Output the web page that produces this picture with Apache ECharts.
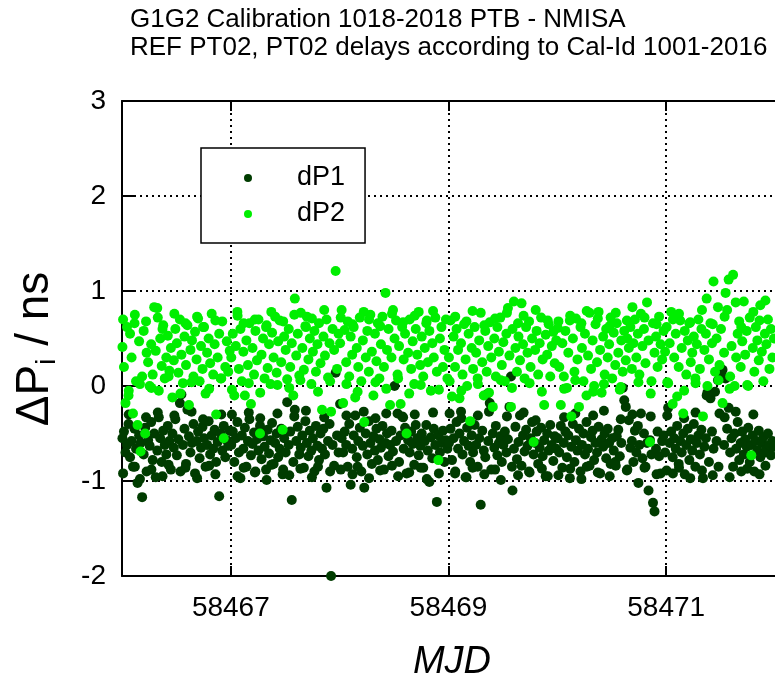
<!DOCTYPE html>
<html>
<head>
<meta charset="utf-8">
<script src="https://cdn.jsdelivr.net/npm/echarts@6.0.0/dist/echarts.min.js"></script>
<style>
html,body{margin:0;padding:0;background:#fff;}
#chart{width:775px;height:682px;}
</style>
</head>
<body>
<div id="chart"></div>
<script>
// Common-view track epochs (MJD); the last block holds additional satellites tracked in the same sessions
const mjd = [
58466.004,58466.018,58466.032,58466.046,58466.060,58466.074,58466.088,58466.101,58466.115,58466.129,58466.143,58466.157,58466.171,58466.185,58466.199,58466.213,58466.226,58466.240,
58466.254,58466.268,58466.282,58466.296,58466.310,58466.324,58466.338,58466.351,58466.365,58466.379,58466.393,58466.407,58466.421,58466.435,58466.449,58466.463,58466.476,58466.490,
58466.504,58466.518,58466.532,58466.546,58466.560,58466.574,58466.588,58466.601,58466.615,58466.629,58466.643,58466.657,58466.671,58466.685,58466.699,58466.713,58466.726,58466.740,
58466.754,58466.768,58466.782,58466.796,58466.810,58466.824,58466.838,58466.851,58466.865,58466.879,58466.893,58466.907,58466.921,58466.935,58466.949,58466.963,58466.976,58466.990,
58467.004,58467.018,58467.032,58467.046,58467.060,58467.074,58467.088,58467.101,58467.115,58467.129,58467.143,58467.157,58467.171,58467.185,58467.199,58467.213,58467.226,58467.240,
58467.254,58467.268,58467.282,58467.296,58467.310,58467.324,58467.338,58467.351,58467.365,58467.379,58467.393,58467.407,58467.421,58467.435,58467.449,58467.463,58467.476,58467.490,
58467.504,58467.518,58467.532,58467.546,58467.560,58467.574,58467.588,58467.601,58467.615,58467.629,58467.643,58467.657,58467.671,58467.685,58467.699,58467.713,58467.726,58467.740,
58467.754,58467.768,58467.782,58467.796,58467.810,58467.824,58467.838,58467.851,58467.865,58467.879,58467.893,58467.907,58467.921,58467.935,58467.949,58467.963,58467.976,58467.990,
58468.004,58468.018,58468.032,58468.046,58468.060,58468.074,58468.088,58468.101,58468.115,58468.129,58468.143,58468.157,58468.171,58468.185,58468.199,58468.213,58468.226,58468.240,
58468.254,58468.268,58468.282,58468.296,58468.310,58468.324,58468.338,58468.351,58468.365,58468.379,58468.393,58468.407,58468.421,58468.435,58468.449,58468.463,58468.476,58468.490,
58468.504,58468.518,58468.532,58468.546,58468.560,58468.574,58468.588,58468.601,58468.615,58468.629,58468.643,58468.657,58468.671,58468.685,58468.699,58468.713,58468.726,58468.740,
58468.754,58468.768,58468.782,58468.796,58468.810,58468.824,58468.838,58468.851,58468.865,58468.879,58468.893,58468.907,58468.921,58468.935,58468.949,58468.963,58468.976,58468.990,
58469.004,58469.018,58469.032,58469.046,58469.060,58469.074,58469.088,58469.101,58469.115,58469.129,58469.143,58469.157,58469.171,58469.185,58469.199,58469.213,58469.226,58469.240,
58469.254,58469.268,58469.282,58469.296,58469.310,58469.324,58469.338,58469.351,58469.365,58469.379,58469.393,58469.407,58469.421,58469.435,58469.449,58469.463,58469.476,58469.490,
58469.504,58469.518,58469.532,58469.546,58469.560,58469.574,58469.588,58469.601,58469.615,58469.629,58469.643,58469.657,58469.671,58469.685,58469.699,58469.713,58469.726,58469.740,
58469.754,58469.768,58469.782,58469.796,58469.810,58469.824,58469.838,58469.851,58469.865,58469.879,58469.893,58469.907,58469.921,58469.935,58469.949,58469.963,58469.976,58469.990,
58470.004,58470.018,58470.032,58470.046,58470.060,58470.074,58470.088,58470.101,58470.115,58470.129,58470.143,58470.157,58470.171,58470.185,58470.199,58470.213,58470.226,58470.240,
58470.254,58470.268,58470.282,58470.296,58470.310,58470.324,58470.338,58470.351,58470.365,58470.379,58470.393,58470.407,58470.421,58470.435,58470.449,58470.463,58470.476,58470.490,
58470.504,58470.518,58470.532,58470.546,58470.560,58470.574,58470.588,58470.601,58470.615,58470.629,58470.643,58470.657,58470.671,58470.685,58470.699,58470.713,58470.726,58470.740,
58470.754,58470.768,58470.782,58470.796,58470.810,58470.824,58470.838,58470.851,58470.865,58470.879,58470.893,58470.907,58470.921,58470.935,58470.949,58470.963,58470.976,58470.990,
58471.004,58471.018,58471.032,58471.046,58471.060,58471.074,58471.088,58471.101,58471.115,58471.129,58471.143,58471.157,58471.171,58471.185,58471.199,58471.213,58471.226,58471.240,
58471.254,58471.268,58471.282,58471.296,58471.310,58471.324,58471.338,58471.351,58471.365,58471.379,58471.393,58471.407,58471.421,58471.435,58471.449,58471.463,58471.476,58471.490,
58471.504,58471.518,58471.532,58471.546,58471.560,58471.574,58471.588,58471.601,58471.615,58471.629,58471.643,58471.657,58471.671,58471.685,58471.699,58471.713,58471.726,58471.740,
58471.754,58471.768,58471.782,58471.796,58471.810,58471.824,58471.838,58471.851,58471.865,58471.879,58471.893,58471.907,58471.921,58471.935,58471.949,58471.963,58471.976,58471.990,
58466.010,58466.062,58466.118,58466.165,58466.221,58466.270,58466.329,58466.372,58466.428,58466.481,58466.537,58466.583,58466.639,58466.690,58466.745,58466.801,58466.858,58466.912,
58467.010,58467.062,58467.118,58467.165,58467.221,58467.270,58467.329,58467.372,58467.428,58467.481,58467.537,58467.583,58467.639,58467.690,58467.745,58467.801,58467.858,58467.912,
58468.010,58468.062,58468.118,58468.165,58468.221,58468.270,58468.329,58468.372,58468.428,58468.481,58468.537,58468.583,58468.639,58468.690,58468.745,58468.801,58468.858,58468.912,
58469.010,58469.062,58469.118,58469.165,58469.221,58469.270,58469.329,58469.372,58469.428,58469.481,58469.537,58469.583,58469.639,58469.690,58469.745,58469.801,58469.858,58469.912,
58470.010,58470.062,58470.118,58470.165,58470.221,58470.270,58470.329,58470.372,58470.428,58470.481,58470.537,58470.583,58470.639,58470.690,58470.745,58470.801,58470.858,58470.912,
58471.010,58471.062,58471.118,58471.165,58471.221,58471.270,58471.329,58471.372,58471.428,58471.481,58471.537,58471.583,58471.639,58471.690,58471.745,58471.801,58471.858,58471.912
];

// dP1 delay differences (ns)
const dP1 = [
-0.55,-0.48,-0.70,-0.62,-0.40,-0.75,-0.58,-0.85,-0.45,-0.66,-1.02,-0.52,-0.60,-1.17,-0.72,-0.44,-0.90,-0.57,
-0.63,-0.38,-0.78,-0.50,-0.96,-0.68,-0.33,-0.55,-0.80,-0.47,-0.62,-0.72,-0.42,-0.58,-0.88,-0.50,-0.65,-0.35,
-0.73,-0.56,-0.18,-0.09,-0.62,-0.45,-0.82,-0.25,-0.53,-0.70,-0.60,-0.40,-0.92,-0.58,-0.48,-0.76,-0.65,-0.43,
-0.55,-0.85,-0.62,-0.37,-0.72,-0.52,-0.66,-0.46,-0.80,-0.59,-1.16,-0.50,-0.68,-0.42,-0.75,-0.57,-0.63,-0.47,
-0.62,-0.48,-0.80,-0.55,-0.38,-0.70,-0.97,-0.52,-0.66,-0.44,-0.85,-0.58,-0.35,-0.73,-0.61,-0.49,-0.90,-0.56,
-0.68,-0.42,-0.77,-0.53,-0.64,-0.88,-0.46,-0.71,-0.57,-0.39,-0.82,-0.60,-0.50,-0.75,-0.66,-0.45,-0.93,-0.55,
-0.70,-0.17,-0.62,-0.48,-1.20,-0.80,-0.25,-0.58,-0.43,-0.72,-0.65,-0.52,-0.86,-0.37,-0.60,-0.74,-0.47,-0.68,
-0.55,-0.90,-0.42,-0.63,-0.78,-0.50,-0.66,-0.45,-0.72,-1.07,-0.58,-0.40,-2.00,-0.62,-0.84,0.14,-0.52,-0.70,
-0.19,-0.55,-0.70,-0.48,-0.62,-0.85,-0.40,-1.04,-0.66,-0.52,-0.31,-0.75,-0.58,-0.44,-0.90,-0.63,-1.07,-0.50,
-0.72,-0.37,-0.60,-0.82,-0.53,-0.68,-0.45,-0.78,-0.56,-0.65,-0.42,-0.88,-0.60,-0.50,-0.74,-0.62,-0.47,-0.69,
0.00,-0.58,-0.29,-0.80,-0.52,-0.32,-0.66,-0.44,-0.92,-0.57,-0.70,-0.48,-0.61,-0.83,-0.41,-0.55,-0.73,-0.63,
-0.50,-0.86,-0.58,-0.41,-0.68,-1.01,-0.54,-0.76,-0.45,-0.62,-1.22,-0.52,-0.70,-0.60,-0.47,-0.80,-0.57,-0.66,
-0.60,-0.45,-0.78,-0.55,-0.92,-0.38,-0.66,-0.50,-0.27,-0.72,-0.58,-0.96,-0.44,-0.63,-0.80,-0.52,-0.70,-0.41,
-0.62,-0.85,-0.55,-1.25,-0.47,-0.68,-0.75,-0.09,-0.58,-0.18,-0.88,-0.50,-0.65,-0.42,-0.73,-0.60,-0.53,-0.80,
-0.62,-0.48,-0.70,-0.56,-0.22,0.10,-1.10,-0.66,-0.43,-0.77,-0.59,-0.31,-0.84,-0.52,-0.69,-0.46,-0.63,-0.90,
-0.55,-0.38,-0.72,-0.60,-0.48,-0.82,-0.65,-0.44,-0.74,-0.57,-0.95,-0.50,-0.68,-0.41,-0.62,-0.79,-0.53,-0.66,
-0.55,-0.70,-0.42,-0.86,-0.60,-0.48,-0.75,-0.52,-0.97,-0.64,-0.40,-0.80,-0.57,-0.68,-0.45,-0.90,-0.62,-0.50,
-0.72,-0.38,-0.66,-0.84,-0.54,-0.47,-0.78,-0.60,-0.70,-0.43,-0.92,-0.56,-0.64,-0.50,-0.76,-0.45,-0.60,-0.82,
-0.55,-0.68,-0.80,-0.53,-0.46,-0.74,-0.60,-0.02,-0.15,-0.22,-0.88,-0.36,-0.65,-0.58,-0.80,-0.47,-0.70,-0.42,
-0.62,-0.29,-0.76,-0.50,-0.85,-0.60,-1.10,-0.57,-0.72,-1.23,-1.32,-0.66,-0.48,-0.74,-0.92,-0.58,-0.52,-0.70,
-0.89,-0.23,-0.60,-0.48,-0.75,-0.55,-0.66,-0.42,-0.82,-0.58,-0.70,-0.50,-0.93,-0.62,-0.45,-0.78,-0.56,-0.68,
-0.40,-0.85,-0.60,-0.52,-0.72,-0.46,-0.97,-0.64,-0.55,-0.07,-0.80,-0.13,-0.48,-0.66,-0.06,-0.58,0.06,-0.29,
0.12,0.17,-0.62,0.08,-0.45,-0.23,-0.70,-0.55,-0.85,-0.50,-0.66,-0.38,-0.78,-0.60,-0.48,-0.72,-0.56,-0.64,
-0.44,-0.80,-0.62,-0.52,-0.90,-0.58,-0.68,-0.47,-0.75,-0.60,-0.54,-0.70,-0.66,-0.50,-0.62,-0.73,-0.58,-0.64,
-0.92,-0.30,-0.85,-0.98,-0.33,-0.88,-0.28,-0.95,-0.83,-0.31,-0.90,-0.86,-0.27,-0.97,-0.35,-0.84,-0.93,-0.30,
-0.30,-0.95,-0.86,-0.28,-0.91,-0.34,-0.99,-0.83,-0.29,-0.88,-0.94,-0.32,-0.87,-0.26,-0.96,-0.85,-0.33,-0.90,
-0.88,-0.31,-0.93,-0.85,-0.27,-0.97,-0.34,-0.89,-0.29,-0.84,-0.95,-0.33,-0.91,-0.30,-0.86,-0.98,-0.28,-0.92,
-0.29,-0.90,-0.34,-0.96,-0.86,-0.31,-0.93,-0.27,-0.88,-0.99,-0.32,-0.85,-0.94,-0.28,-0.91,-0.36,-0.87,-0.95,
-0.94,-0.33,-0.87,-0.29,-0.98,-0.85,-0.31,-0.91,-0.26,-0.95,-0.84,-0.35,-0.89,-0.30,-1.02,-0.86,-0.32,-0.93,
-0.31,-0.92,-0.86,-0.34,-0.97,-0.28,-0.89,-0.10,-0.94,-0.85,-0.33,-0.96,-0.27,-0.90,-0.87,-0.30,-0.93,-0.84
];

// dP2 delay differences (ns)
const dP2 = [
0.41,0.20,-0.18,0.62,-0.10,0.55,0.30,-0.29,0.66,0.05,-0.41,0.47,-0.69,0.10,0.58,-0.50,0.35,0.25,
0.00,0.44,0.12,0.83,0.37,0.82,-0.05,0.50,0.21,0.64,0.08,0.30,0.53,0.16,0.40,-0.12,0.27,0.60,
0.45,0.14,0.70,0.33,0.03,0.52,0.22,0.64,-0.20,0.38,0.48,0.10,0.57,0.28,0.71,0.05,0.42,0.18,
0.62,-0.08,0.35,0.50,0.24,0.76,0.12,0.44,-0.30,0.30,0.55,0.08,0.68,-0.55,0.20,0.47,0.15,0.37,
0.30,0.55,-0.10,0.42,0.78,0.18,0.60,0.05,0.36,-0.10,0.48,0.22,0.66,-0.19,0.40,0.12,0.58,0.27,
0.70,-0.50,0.33,0.50,0.08,0.62,0.19,0.44,0.02,0.56,0.30,0.73,0.14,0.47,0.69,0.25,-0.46,0.52,
0.38,0.07,0.60,0.20,0.45,-0.10,0.92,0.32,0.55,0.11,0.77,0.40,0.17,0.63,0.73,0.28,0.50,0.02,
0.36,0.58,0.15,0.44,0.66,0.24,-0.25,0.52,0.32,0.70,0.09,0.45,-0.27,0.60,0.38,1.21,0.18,0.55,
0.45,0.80,-0.18,0.59,0.25,0.68,0.10,0.52,0.33,0.62,-0.12,0.40,0.20,0.72,0.05,0.48,-0.38,0.30,
0.58,0.15,0.75,0.36,-0.10,0.55,0.26,0.66,0.08,0.44,0.73,0.20,0.98,0.38,0.60,-0.20,0.30,0.80,
0.50,0.69,0.12,0.42,-0.19,0.62,0.28,0.55,-0.50,0.35,0.70,0.18,0.47,0.02,0.60,0.33,0.78,0.22,
0.52,0.10,0.40,0.66,0.25,0.58,-0.05,0.45,0.30,0.72,0.15,-0.78,0.50,0.62,0.20,0.38,0.70,0.08,
0.30,0.69,-0.11,0.52,0.20,0.60,0.38,-0.13,0.45,0.12,0.65,0.28,0.00,0.55,-0.37,0.40,0.18,0.62,
0.35,0.08,0.48,0.77,0.25,-0.10,0.58,0.15,0.42,0.67,0.30,-0.22,0.50,0.10,0.62,0.36,0.72,0.22,
0.46,0.05,0.55,0.82,0.32,-0.22,0.60,0.89,0.40,0.15,0.52,0.27,0.87,0.44,0.08,0.62,0.35,0.68,
0.20,0.50,-0.59,0.38,0.58,0.12,0.45,0.72,0.28,-0.20,0.54,0.33,0.65,0.10,0.42,0.57,0.24,0.48,
0.61,0.20,-0.20,0.45,0.10,0.58,-0.02,0.35,0.69,-0.32,0.50,0.15,0.71,0.28,-0.22,0.62,0.40,0.05,
0.55,-0.10,0.32,0.77,0.18,0.48,0.00,0.65,0.25,0.78,0.38,-0.07,0.52,0.12,0.60,0.30,0.44,0.72,
0.08,0.56,0.22,0.66,0.35,-0.04,0.48,0.15,0.58,0.27,0.50,0.40,0.62,0.18,0.45,0.70,0.30,0.55,
0.12,0.76,0.42,0.60,0.24,0.88,0.48,-0.59,0.05,0.66,0.35,0.52,0.20,0.73,0.44,0.28,0.58,0.36,
0.62,0.03,0.45,0.78,-0.19,0.30,0.55,-0.11,0.20,0.69,0.40,-0.29,0.58,0.12,0.48,0.66,0.25,0.35,
0.52,0.08,0.44,0.70,0.18,0.60,-0.32,0.38,0.55,0.00,0.28,0.66,0.45,1.10,0.15,0.50,0.83,0.22,
0.60,-0.18,0.35,0.98,0.80,1.12,0.10,0.42,1.17,0.00,0.30,0.55,0.68,0.20,0.47,0.89,0.33,0.58,
0.00,0.72,-0.73,0.40,0.15,0.62,0.48,0.27,0.85,0.36,0.05,0.55,0.44,0.70,0.18,0.60,0.30,0.50,
0.70,-0.05,0.75,0.02,0.68,-0.02,0.72,0.60,0.10,0.76,-0.08,0.66,0.04,0.73,0.62,-0.03,0.69,0.08,
-0.04,0.74,0.66,0.03,0.70,-0.07,0.64,0.78,0.01,0.68,-0.02,0.75,0.06,0.62,0.71,-0.06,0.80,0.05,
0.72,0.02,0.65,-0.06,0.78,0.70,0.04,0.63,-0.03,0.76,0.08,0.67,-0.08,0.74,0.01,0.69,0.79,-0.04,
0.05,0.73,-0.05,0.68,0.79,0.02,0.64,-0.07,0.71,0.06,0.77,-0.02,0.66,0.74,0.03,0.80,-0.06,0.69,
0.68,-0.03,0.74,0.06,0.66,0.79,-0.06,0.71,0.02,0.63,0.77,-0.01,0.69,0.83,0.04,0.72,-0.08,0.65,
0.04,0.70,0.76,-0.05,0.67,0.03,0.80,0.92,0.65,0.06,0.73,-0.03,0.88,0.62,0.01,0.78,0.69,0.90
];

const seriesNames = ['dP1', 'dP2'];
const seriesColors = ['#003c00', '#00ee00'];
const xTickValues = [58467, 58469, 58471];
const xRange = [58466, 58472];
const yRange = [-2, 3];
const titleLines = [
  'G1G2 Calibration 1018-2018 PTB - NMISA',
  'REF PT02, PT02 delays according to Cal-Id 1001-2016'
];

const FONT = "'Liberation Sans', Arial, Helvetica, sans-serif";

function pairs(values) {
  const out = [];
  for (let i = 0; i < Math.min(mjd.length, values.length); i++) out.push([mjd[i], values[i]]);
  return out;
}

const dotted = { show: true, lineStyle: { color: '#000', width: 2, type: [2, 4] } };
const axisLineStyle = { show: true, onZero: false, lineStyle: { color: '#000', width: 2 } };

const chart = echarts.init(document.getElementById('chart'), null, { renderer: 'canvas' });
chart.setOption({
  animation: false,
  backgroundColor: '#fff',
  title: {
    text: titleLines.join('\n'),
    left: 130, top: 6, padding: 0,
    textStyle: { fontFamily: FONT, fontSize: 26, fontWeight: 'normal', color: '#000', lineHeight: 28 }
  },
  legend: {
    data: seriesNames,
    orient: 'vertical',
    left: 201, top: 148,
    selectedMode: false,
    icon: 'circle',
    itemWidth: 8, itemHeight: 8, itemGap: 6,
    padding: [15, 20, 14, 43],
    backgroundColor: '#fff',
    borderColor: '#000', borderWidth: 1.5, borderRadius: 0,
    textStyle: { fontFamily: FONT, fontSize: 27, color: '#000', lineHeight: 30, padding: [0, 0, 0, 40] }
  },
  grid: { left: 122, top: 101, right: -8, bottom: 106, containLabel: false },
  xAxis: [
    {
      type: 'value', position: 'bottom', min: xRange[0], max: xRange[1],
      axisLine: axisLineStyle,
      axisTick: { show: true, inside: true, length: 10, customValues: xTickValues, lineStyle: { color: '#000', width: 2 } },
      axisLabel: { customValues: xTickValues, margin: 18, fontFamily: FONT, fontSize: 28, color: '#000', formatter: v => String(v) },
      splitLine: dotted
    },
    {
      type: 'value', position: 'top', min: xRange[0], max: xRange[1],
      axisLine: axisLineStyle,
      axisTick: { show: true, inside: true, length: 10, customValues: xTickValues, lineStyle: { color: '#000', width: 2 } },
      axisLabel: { show: false },
      splitLine: { show: false }
    }
  ],
  yAxis: {
    type: 'value', min: yRange[0], max: yRange[1], interval: 1,
    axisLine: axisLineStyle,
    axisTick: { show: true, inside: true, length: 14, lineStyle: { color: '#000', width: 2 } },
    axisLabel: { margin: 16, fontFamily: FONT, fontSize: 28, color: '#000', formatter: v => String(v) },
    splitLine: dotted
  },
  graphic: [
    {
      type: 'text', x: 452, y: 662, silent: true,
      style: { text: 'MJD', font: 'italic 38px ' + FONT, fill: '#000', textAlign: 'center', textVerticalAlign: 'middle' }
    },
    {
      type: 'text', x: 35, y: 349, rotation: Math.PI / 2, silent: true,
      style: {
        text: '{m|ΔP}{s|i}{m| / ns}',
        textAlign: 'center', textVerticalAlign: 'middle',
        rich: {
          m: { font: '46px ' + FONT, fill: '#000', lineHeight: 52, verticalAlign: 'middle' },
          s: { font: '28px ' + FONT, fill: '#000', lineHeight: 28, verticalAlign: 'bottom' }
        }
      }
    }
  ],
  series: seriesNames.map((name, k) => ({
    name: name,
    type: 'scatter',
    xAxisIndex: 0, yAxisIndex: 0,
    symbol: 'circle', symbolSize: 10,
    silent: true,
    z: 2 + k,
    itemStyle: { color: seriesColors[k], opacity: 1 },
    data: pairs(k === 0 ? dP1 : dP2)
  }))
});
</script>
</body>
</html>
